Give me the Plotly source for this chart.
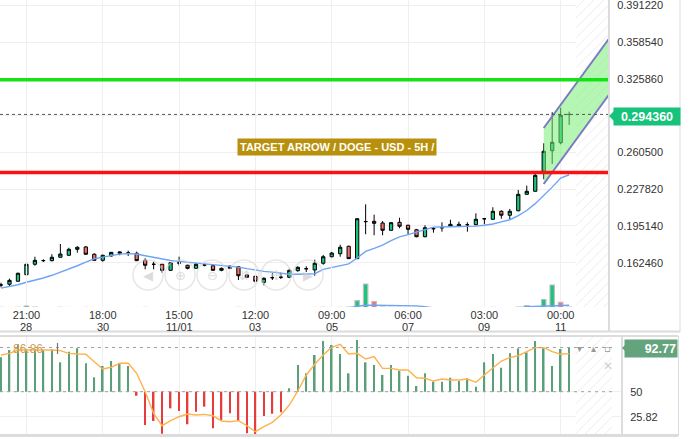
import pandas as pd
import plotly.graph_objects as go

# ---------------- data ----------------
start_time = pd.Timestamp("2024-10-28 06:00")
bar_step = pd.Timedelta(hours=5)
n_bars = 68

open_ = [0.1427, 0.1433, 0.1460, 0.1518, 0.1611, 0.1643, 0.1643, 0.1673, 0.1691, 0.1744,
         0.1765, 0.1700, 0.1646, 0.1685, 0.1709, 0.1711, 0.1709, 0.1646, 0.1610, 0.1611,
         0.1557, 0.1623, 0.1602, 0.1575, 0.1605, 0.1598, 0.1557, 0.1575, 0.1589, 0.1516,
         0.1504, 0.1451, 0.1491, 0.1495, 0.1495, 0.1554, 0.1572, 0.1560, 0.1620, 0.1678,
         0.1705, 0.1771, 0.1661, 0.1990, 0.1993, 0.1978, 0.1913, 0.1984, 0.1958, 0.1918,
         0.1856, 0.1928, 0.1936, 0.1949, 0.1966, 0.1962, 0.1963, 0.2015, 0.2011, 0.2082,
         0.2047, 0.2087, 0.2233, 0.2260, 0.2438, 0.2621, 0.2692, 0.2943]
high = [0.1447, 0.1483, 0.1536, 0.1622, 0.1678, 0.1655, 0.1700, 0.1791, 0.1758, 0.1771,
        0.1774, 0.1709, 0.1696, 0.1720, 0.1726, 0.1732, 0.1723, 0.1664, 0.1634, 0.1613,
        0.1631, 0.1678, 0.1607, 0.1622, 0.1613, 0.1607, 0.1581, 0.1602, 0.1596, 0.1518,
        0.1513, 0.1495, 0.1531, 0.1536, 0.1572, 0.1593, 0.1593, 0.1652, 0.1694, 0.1720,
        0.1785, 0.1776, 0.2022, 0.2144, 0.2052, 0.1995, 0.1984, 0.2025, 0.1963, 0.1925,
        0.1958, 0.1942, 0.1984, 0.2007, 0.1990, 0.1984, 0.2064, 0.2020, 0.2118, 0.2091,
        0.2103, 0.2272, 0.2310, 0.2440, 0.2687, 0.2963, 0.3003, 0.2968]
low = [0.1406, 0.1412, 0.1458, 0.1516, 0.1598, 0.1631, 0.1637, 0.1671, 0.1685, 0.1714,
       0.1696, 0.1645, 0.1634, 0.1678, 0.1691, 0.1685, 0.1640, 0.1566, 0.1566, 0.1536,
       0.1554, 0.1598, 0.1566, 0.1572, 0.1593, 0.1554, 0.1549, 0.1569, 0.1471, 0.1492,
       0.1438, 0.1424, 0.1471, 0.1480, 0.1492, 0.1545, 0.1542, 0.1509, 0.1607, 0.1673,
       0.1678, 0.1658, 0.1659, 0.1878, 0.1869, 0.1869, 0.1911, 0.1931, 0.1880, 0.1851,
       0.1851, 0.1892, 0.1901, 0.1948, 0.1942, 0.1901, 0.1958, 0.1967, 0.2005, 0.2016,
       0.2011, 0.2082, 0.2232, 0.2258, 0.2367, 0.2503, 0.2678, 0.2850]
close = [0.1427, 0.1468, 0.1531, 0.1611, 0.1646, 0.1644, 0.1673, 0.1702, 0.1744, 0.1762,
         0.1700, 0.1646, 0.1691, 0.1717, 0.1720, 0.1711, 0.1643, 0.1602, 0.1611, 0.1557,
         0.1625, 0.1622, 0.1575, 0.1611, 0.1604, 0.1557, 0.1575, 0.1593, 0.1509, 0.1495,
         0.1460, 0.1486, 0.1492, 0.1496, 0.1557, 0.1584, 0.1571, 0.1620, 0.1678, 0.1711,
         0.1762, 0.1661, 0.2016, 0.1991, 0.1975, 0.1913, 0.1981, 0.1949, 0.1922, 0.1856,
         0.1936, 0.1927, 0.1936, 0.1966, 0.1949, 0.1963, 0.2011, 0.2016, 0.2082, 0.2047,
         0.2082, 0.2233, 0.2260, 0.2402, 0.2616, 0.2696, 0.2936, 0.29436]
ma_line = [0.1399, 0.1414, 0.1429, 0.1451, 0.1468, 0.1489, 0.1513, 0.1540, 0.1566, 0.1598,
           0.1630, 0.1660, 0.1675, 0.1690, 0.1701, 0.1706, 0.1702, 0.1687, 0.1672, 0.1658,
           0.1645, 0.1637, 0.1630, 0.1623, 0.1617, 0.1612, 0.1605, 0.1597, 0.1586, 0.1572,
           0.1557, 0.1548, 0.1541, 0.1532, 0.1522, 0.1522, 0.1522, 0.1527, 0.1566, 0.1581,
           0.1596, 0.1615, 0.1667, 0.1725, 0.1752, 0.1781, 0.1822, 0.1854, 0.1874, 0.1896,
           0.1924, 0.1941, 0.1943, 0.1945, 0.1945, 0.1947, 0.1950, 0.1958, 0.1969, 0.1988,
           0.2007, 0.2044, 0.2089, 0.2150, 0.2222, 0.2297, 0.2377, 0.2407]
# volume, millions of DOGE
volume = [110, 95, 120, 250, 130, 90, 85, 120, 100, 95,
          105, 90, 80, 70, 60, 65, 95, 110, 85, 100,
          90, 70, 65, 60, 55, 70, 60, 55, 110, 75,
          90, 80, 60, 55, 85, 70, 60, 100, 120, 95,
          110, 140, 780, 2450, 700, 140, 120, 110, 100, 120,
          95, 80, 75, 70, 65, 70, 95, 80, 110, 90,
          85, 140, 280, 140, 900, 2350, 620, 130]
volume_ma = [60, 60, 62, 64, 64, 63, 62, 61, 60, 60,
             59, 58, 57, 56, 55, 54, 54, 55, 55, 55,
             54, 53, 52, 51, 50, 50, 49, 48, 49, 48,
             48, 48, 47, 46, 46, 46, 45, 47, 50, 52,
             54, 60, 230, 320, 330, 320, 310, 300, 290, 260,
             190, 60, 58, 56, 55, 54, 53, 52, 53, 54,
             55, 60, 170, 210, 260, 320, 330, 330]
volume_red_extra = [66]
osc_hist = [83.3, 90.3, 95.8, 91.0, 91.0, 90.3, 91.0, 78.4, 88.7, 92.0,
            77.5, 63.9, 74.9, 79.7, 77.8, 74.9, 46.1, 17.8, 21.7, 9.4,
            33.9, 31.3, 18.5, 30.7, 35.5, 14.6, 22.3, 29.1, 21.7, 9.8,
            8.8, 26.5, 28.7, 30.1, 53.3, 75.8, 67.8, 85.5, 99.0, 95.2,
            86.5, 67.8, 100.0, 78.4, 75.8, 66.2, 75.8, 70.3, 65.5, 55.5,
            67.8, 59.7, 59.7, 63.5, 60.3, 63.0, 54.8, 78.4, 86.5, 73.2,
            87.1, 92.0, 88.1, 99.0, 92.0, 74.9, 91.3, 92.77]
osc_signal = [85.5, 87.1, 90.3, 90.3, 91.0, 91.0, 90.3, 89.7, 87.1, 86.5,
              86.2, 79.0, 72.0, 73.6, 77.5, 77.5, 67.8, 50.0, 29.1, 17.1,
              22.0, 25.8, 28.4, 27.5, 28.1, 26.8, 21.7, 21.0, 22.0, 17.1,
              11.3, 16.2, 20.4, 27.5, 37.1, 50.7, 66.2, 76.5, 85.5, 92.9,
              95.8, 86.5, 87.1, 81.6, 83.9, 72.6, 72.6, 71.0, 71.0, 63.5,
              63.0, 60.3, 62.3, 61.3, 61.3, 62.3, 59.1, 66.2, 73.2, 79.7,
              82.9, 84.8, 88.7, 92.6, 92.6, 88.7, 86.2, 86.86]

tick_index = [3, 12, 21, 30, 39, 48, 57, 66]
tick_time_labels = ["21:00", "18:00", "15:00", "12:00", "09:00", "06:00", "03:00", "00:00"]
tick_date_labels = ["28", "30", "11/01", "03", "05", "07", "09", "11"]
price_ticks = [0.16246, 0.19514, 0.22782, 0.26050, 0.29318, 0.32586, 0.35854, 0.39122]
price_tick_text = ["0.162460", "0.195140", "0.227820", "0.260500", "",
                   "0.325860", "0.358540", "0.391220"]
osc_ticks = [25.82, 50]
osc_tick_text = ["25.82", "50"]

last_price = 0.29436
target_level = 0.3252
stop_level = 0.2427
osc_last = 92.77
osc_signal_last = 86.86
osc_mid = 50

channel_index = [64, 72]
channel_upper = [0.2823, 0.3649]
channel_lower = [0.2325, 0.3151]

title_text = "TARGET ARROW / DOGE - USD - 5H /"

# ---------------- layout helpers ----------------
W, H = 696, 439
times = [start_time + i * bar_step for i in range(n_bars + 12)]
bar_times = times[:n_bars]
FIRST_PX, STEP_PX = 1.0, 8.48


def tx(px):
    return start_time + bar_step * ((px - FIRST_PX) / STEP_PX)


def PX(x):
    return x / W


def PY(y):
    return 1 - y / H


step_ms = bar_step.total_seconds() * 1000
P_TOP, PX_PER_UNIT = 0.39611, 1124.5
MAIN_BOTTOM = 307
price_range = [P_TOP - MAIN_BOTTOM / PX_PER_UNIT, P_TOP]
osc_range = [8.12, 103.87]

GREEN = "#1bc47d"
RED = "#f0736b"
FONT = "Liberation Sans, Arial, sans-serif"
HATCH = dict(shape="/", fgcolor="#d9d9d9", bgcolor="white", size=7, solidity=0.14)

fig = go.Figure()

# hatched "future" zones
fig.add_trace(go.Scatter(
    x=[tx(576), tx(640), tx(640), tx(576), tx(576)],
    y=[price_range[0] - 0.01, price_range[0] - 0.01, price_range[1] + 0.01, price_range[1] + 0.01, price_range[0] - 0.01],
    fill="toself", mode="none", fillcolor="white", fillpattern=HATCH,
    xaxis="x", yaxis="y", hoverinfo="skip"))
fig.add_trace(go.Scatter(
    x=[tx(576), tx(612), tx(612), tx(576), tx(576)],
    y=[0, 0, 120, 120, 0],
    fill="toself", mode="none", fillcolor="white", fillpattern=HATCH,
    xaxis="x2", yaxis="y2", hoverinfo="skip"))

# channel
cx = [times[i] for i in channel_index]
fig.add_trace(go.Scatter(
    x=[cx[0], cx[1], cx[1], cx[0], cx[0]],
    y=[channel_upper[0], channel_upper[1], channel_lower[1], channel_lower[0], channel_upper[0]],
    fill="toself", fillcolor="rgba(120,238,120,0.55)", mode="lines", line=dict(width=0),
    xaxis="x", yaxis="y", hoverinfo="skip"))
for ys in (channel_upper, channel_lower):
    fig.add_trace(go.Scatter(x=cx, y=ys, mode="lines", line=dict(color="#7a7ac0", width=2),
                             xaxis="x", yaxis="y", hoverinfo="skip"))

# moving average
fig.add_trace(go.Scatter(x=bar_times, y=ma_line, mode="lines",
                         line=dict(color="#6ea4f4", width=1.4), xaxis="x", yaxis="y"))

# candles
fig.add_trace(go.Candlestick(
    x=bar_times, open=open_, high=high, low=low, close=close,
    increasing=dict(fillcolor=GREEN, line=dict(color="black", width=1)),
    decreasing=dict(fillcolor=RED, line=dict(color="black", width=1)),
    whiskerwidth=0, xaxis="x", yaxis="y"))

# volume
vol_colors = [RED if (c < o or i in volume_red_extra) else GREEN
              for i, (o, c) in enumerate(zip(open_, close))]
fig.add_trace(go.Bar(x=bar_times, y=volume, marker=dict(color=vol_colors, line=dict(color="#bdbdbd", width=1.2)),
                     width=step_ms * 4.4 / STEP_PX, xaxis="x", yaxis="y3"))
fig.add_trace(go.Scatter(x=bar_times, y=volume_ma, mode="lines", line=dict(color="#6ea4f4", width=1.4),
                         xaxis="x", yaxis="y3"))

# oscillator
osc_colors = ["#5b9f78" if v >= osc_mid else "#e63c3c" for v in osc_hist]
fig.add_trace(go.Bar(x=bar_times, y=[v - osc_mid for v in osc_hist], base=osc_mid,
                     marker=dict(color=osc_colors, line=dict(width=0)),
                     width=step_ms * 1.6 / STEP_PX, xaxis="x2", yaxis="y2"))
fig.add_trace(go.Scatter(x=bar_times, y=osc_signal, mode="lines", line=dict(color="#ffb24c", width=1.4),
                         xaxis="x2", yaxis="y2"))

tick_times = [times[i] for i in tick_index]
grid = "#efefef"

shapes = []
shapes.append(dict(type="line", xref="x domain", yref="y", x0=0, x1=1, y0=target_level, y1=target_level,
                   line=dict(color="#16e016", width=3.5)))
shapes.append(dict(type="line", xref="x domain", yref="y", x0=0, x1=1, y0=stop_level, y1=stop_level,
                   line=dict(color="#ff1010", width=3.5)))
shapes.append(dict(type="line", xref="x domain", yref="y", x0=0, x1=1, y0=last_price, y1=last_price,
                   line=dict(color="#555555", width=1, dash="dot")))
for lvl in (osc_last, osc_mid):
    shapes.append(dict(type="line", xref="x2", yref="y2", x0=tx(0), x1=tx(612), y0=lvl, y1=lvl,
                       line=dict(color="#a0a0a0", width=1, dash="3px,4px")))
frame = "#dcdcdc"
shapes += [
    dict(type="line", xref="paper", yref="paper", x0=PX(609), x1=PX(609), y0=PY(0), y1=PY(332), line=dict(color=frame, width=2)),
    dict(type="line", xref="paper", yref="paper", x0=PX(680), x1=PX(680), y0=PY(0), y1=PY(332), line=dict(color=frame, width=1)),
    dict(type="line", xref="paper", yref="paper", x0=0, x1=PX(680), y0=PY(331.5), y1=PY(331.5), line=dict(color=frame, width=2)),
    dict(type="line", xref="paper", yref="paper", x0=0, x1=PX(678), y0=PY(336), y1=PY(336), line=dict(color=frame, width=2)),
    dict(type="line", xref="paper", yref="paper", x0=0, x1=PX(678), y0=PY(435.5), y1=PY(435.5), line=dict(color=frame, width=3)),
    dict(type="line", xref="paper", yref="paper", x0=PX(622), x1=PX(622), y0=PY(336), y1=PY(436), line=dict(color=frame, width=2)),
    dict(type="line", xref="paper", yref="paper", x0=PX(678.5), x1=PX(678.5), y0=PY(336), y1=PY(436), line=dict(color=frame, width=1)),
    dict(type="line", xref="paper", yref="paper", x0=PX(57.5), x1=PX(57.5), y0=PY(343), y1=PY(354), line=dict(color="#777", width=1.2)),
]
shapes.append(dict(type="path", xref="paper", yref="paper",
                   path=f"M {PX(609)} {PY(116)} L {PX(614)} {PY(111)} L {PX(614)} {PY(121)} Z",
                   fillcolor="#17c27a", line=dict(width=0)))
shapes.append(dict(type="path", xref="paper", yref="paper",
                   path=f"M {PX(622)} {PY(348)} L {PX(626)} {PY(344)} L {PX(626)} {PY(352)} Z",
                   fillcolor="#64a47d", line=dict(width=0)))
nav_x = (148, 180, 212, 244, 276, 308)
for cxp in nav_x:
    shapes.append(dict(type="circle", xref="paper", yref="paper",
                       x0=PX(cxp - 15), x1=PX(cxp + 15), y0=PY(275 + 15), y1=PY(275 - 15),
                       line=dict(color="rgba(215,215,215,0.6)", width=1.5)))

tickfont = dict(family=FONT, size=11, color="#333333")
annotations = [
    dict(text=f"<b>{title_text}</b>", xref="paper", yref="paper", x=PX(336.5), y=PY(146.5),
         showarrow=False, font=dict(family=FONT, size=11, color="white"), bgcolor="#b8900c",
         borderpad=2, xanchor="center", yanchor="middle"),
    dict(text=f"<b>{last_price:.6f}</b>", xref="paper", yref="paper", x=PX(646.5), y=PY(116.3),
         showarrow=False, font=dict(family=FONT, size=12.5, color="white"), bgcolor="#17c27a",
         width=64, height=15, borderpad=1, xanchor="center", yanchor="middle"),
    dict(text=f"<b>{osc_last:.2f}</b>", xref="paper", yref="paper", x=PX(651), y=PY(348),
         showarrow=False, font=dict(family=FONT, size=12.5, color="white"), bgcolor="#64a47d",
         width=50, height=15, borderpad=1, align="right", xanchor="center", yanchor="middle"),
    dict(text=f"{osc_signal_last:.2f}", xref="paper", yref="paper", x=PX(11), y=PY(349),
         showarrow=False, font=dict(family=FONT, size=12, color="#d2a050"),
         xanchor="left", yanchor="middle"),
    dict(text="✕", xref="paper", yref="paper", x=PX(607.7), y=PY(365.5), showarrow=False,
         font=dict(family="DejaVu Sans", size=12, color="#cfcfcf"), xanchor="center", yanchor="middle"),
]
# second line of the time axis (dates)
for t, lab in zip(tick_times, tick_date_labels):
    annotations.append(dict(text=lab, xref="x", yref="paper", x=t, y=PY(327), showarrow=False,
                            font=tickfont, xanchor="center", yanchor="middle"))
for xp, glyph in ((579.5, "▾"), (593.5, "▴"), (607.7, "▫")):
    annotations.append(dict(text=glyph, xref="paper", yref="paper", x=PX(xp), y=PY(348.5), showarrow=False,
                            font=dict(family="DejaVu Sans", size=10, color="#999999"),
                            xanchor="center", yanchor="middle"))
for cxp, glyph in zip(nav_x, ("◀", "⊕", "⊖", "⇵", "✣", "▶")):
    annotations.append(dict(text=glyph, xref="paper", yref="paper", x=PX(cxp), y=PY(275), showarrow=False,
                            font=dict(family="DejaVu Sans", size=13, color="rgba(205,205,205,0.7)"),
                            xanchor="center", yanchor="middle"))

fig.update_layout(
    width=W, height=H, margin=dict(l=0, r=0, t=0, b=0),
    paper_bgcolor="white", plot_bgcolor="rgba(0,0,0,0)",
    showlegend=False, boxgap=0.45,
    font=dict(family=FONT, size=11, color="#333333"),
    xaxis=dict(domain=[0, PX(609)], range=[tx(0), tx(609)], anchor="y",
               tickvals=tick_times, ticktext=tick_time_labels, showgrid=True, gridcolor=grid,
               ticks="", tickfont=tickfont,
               showline=False, zeroline=False, rangeslider=dict(visible=False)),
    yaxis=dict(domain=[PY(MAIN_BOTTOM), 1], range=price_range, side="right", anchor="x",
               tickvals=price_ticks, ticktext=price_tick_text, showgrid=True, gridcolor=grid,
               ticks="outside", ticklen=5, tickcolor="rgba(0,0,0,0)", ticklabeloverflow="allow",
               tickfont=tickfont, showline=False, zeroline=False),
    yaxis3=dict(domain=[PY(MAIN_BOTTOM), PY(262)], range=[150, 4650], anchor="x",
                visible=False, showgrid=False),
    xaxis2=dict(domain=[0, PX(622)], range=[tx(0), tx(622)], anchor="y2",
                tickvals=tick_times, showticklabels=False, showgrid=True, gridcolor=grid,
                showline=False, zeroline=False),
    yaxis2=dict(domain=[PY(435), PY(336)], range=osc_range, side="right", anchor="x2",
                tickvals=osc_ticks, ticktext=osc_tick_text, showgrid=True, gridcolor=grid,
                ticks="outside", ticklen=5, tickcolor="rgba(0,0,0,0)",
                tickfont=tickfont, showline=False, zeroline=False),
    shapes=shapes, annotations=annotations,
)

fig.write_html("out.html")
